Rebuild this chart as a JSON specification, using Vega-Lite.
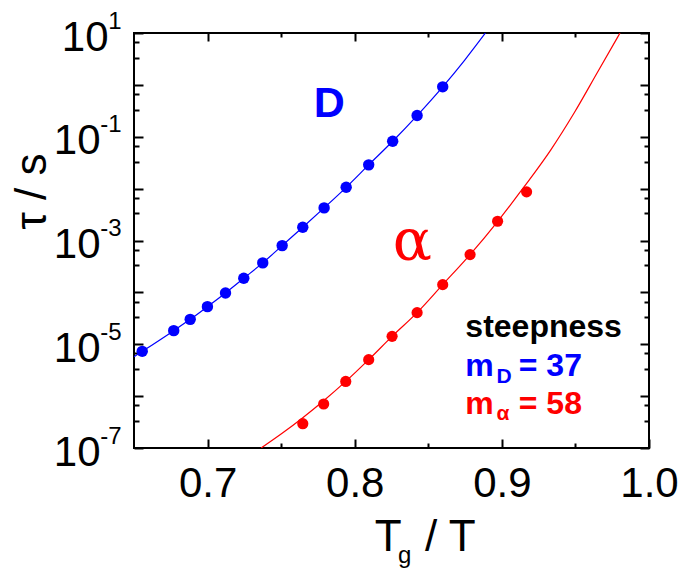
{
  "$schema": "https://vega.github.io/schema/vega-lite/v6.json",
  "width": 515,
  "height": 415,
  "autosize": {"type": "none"},
  "padding": {"left": 134, "top": 33, "right": 35, "bottom": 122},
  "background": "white",
  "config": {
    "view": {"stroke": "black", "strokeWidth": 2},
    "axis": {"zindex": 1, "domain": false, "grid": false, "tickColor": "black", "tickOpacity": 1, "tickWidth": 2, "labelFont": "Liberation Sans", "labelColor": "black", "labelFontSize": 42, "titleFont": "Liberation Sans", "titleColor": "black", "labelFlush": false, "labelOverlap": false}
  },
  "datasets": {
    "blueLine": [
      {"x": 0.65, "tau": 5.77e-6}, {"x": 0.6556, "tau": 7.3e-6}, {"x": 0.677, "tau": 1.83e-5}, {"x": 0.6882, "tau": 3.02e-5},
      {"x": 0.6999, "tau": 5.31e-5}, {"x": 0.7122, "tau": 9.75e-5}, {"x": 0.7246, "tau": 1.87e-4}, {"x": 0.7375, "tau": 3.7e-4},
      {"x": 0.7507, "tau": 7.97e-4}, {"x": 0.7647, "tau": 1.8e-3}, {"x": 0.7792, "tau": 4.25e-3}, {"x": 0.7942, "tau": 1.06e-2},
      {"x": 0.8095, "tau": 2.87e-2}, {"x": 0.8258, "tau": 8.18e-2}, {"x": 0.8424, "tau": 0.256}, {"x": 0.8598, "tau": 0.917},
      {"x": 0.8745, "tau": 2.95}, {"x": 0.8888, "tau": 10}
    ],
    "bluePts": [
      {"x": 0.6556, "tau": 7.3e-6}, {"x": 0.677, "tau": 1.83e-5}, {"x": 0.6882, "tau": 3.02e-5}, {"x": 0.6999, "tau": 5.31e-5},
      {"x": 0.7122, "tau": 9.75e-5}, {"x": 0.7246, "tau": 1.87e-4}, {"x": 0.7375, "tau": 3.7e-4}, {"x": 0.7507, "tau": 7.97e-4},
      {"x": 0.7647, "tau": 1.8e-3}, {"x": 0.7792, "tau": 4.25e-3}, {"x": 0.7942, "tau": 1.06e-2}, {"x": 0.8095, "tau": 2.87e-2},
      {"x": 0.8258, "tau": 8.18e-2}, {"x": 0.8424, "tau": 0.256}, {"x": 0.8598, "tau": 0.917}
    ],
    "redLine": [
      {"x": 0.7364, "tau": 1e-7}, {"x": 0.7509, "tau": 1.94e-7}, {"x": 0.7647, "tau": 3.84e-7}, {"x": 0.7789, "tau": 8.15e-7},
      {"x": 0.7939, "tau": 1.92e-6}, {"x": 0.8095, "tau": 5.05e-6}, {"x": 0.8254, "tau": 1.42e-5}, {"x": 0.8424, "tau": 4.07e-5},
      {"x": 0.8598, "tau": 1.41e-4}, {"x": 0.8784, "tau": 5.35e-4}, {"x": 0.8971, "tau": 2.32e-3}, {"x": 0.9153, "tau": 1.1e-2},
      {"x": 0.9334, "tau": 5.66e-2}, {"x": 0.9493, "tau": 0.293}, {"x": 0.9649, "tau": 1.73}, {"x": 0.9803, "tau": 10}
    ],
    "redPts": [
      {"x": 0.7647, "tau": 2.94e-7}, {"x": 0.7789, "tau": 7.06e-7}, {"x": 0.7939, "tau": 1.92e-6}, {"x": 0.8095, "tau": 5.05e-6},
      {"x": 0.8254, "tau": 1.42e-5}, {"x": 0.8424, "tau": 4.07e-5}, {"x": 0.8598, "tau": 1.41e-4}, {"x": 0.8784, "tau": 5.35e-4},
      {"x": 0.8971, "tau": 2.35e-3}, {"x": 0.9168, "tau": 8.66e-3}
    ],
    "notes": [
      {"t": "steepness", "x": 0.8752, "tau": 1.38e-5, "g": "k"},
      {"t": "m", "x": 0.8752, "tau": 2.4e-6, "g": "D"},
      {"t": "= 37", "x": 0.9115, "tau": 2.4e-6, "g": "D"},
      {"t": "m", "x": 0.8752, "tau": 4.59e-7, "g": "a"},
      {"t": "= 58", "x": 0.9115, "tau": 4.59e-7, "g": "a"}
    ],
    "subs": [
      {"t": "D", "x": 0.8963, "tau": 1.79e-6, "g": "D"},
      {"t": "α", "x": 0.8963, "tau": 3.52e-7, "g": "a"}
    ],
    "labelD": [{"t": "D", "x": 0.7828, "tau": 0.242}],
    "labelA": [{"t": "α", "x": 0.8392, "tau": 4.28e-4}],
    "xTitle": [
      {"t": "T", "x": 0.8137, "tau": 1.03e-9},
      {"t": "/ T", "x": 0.8478, "tau": 1.03e-9}
    ],
    "xSub": [{"t": "g", "x": 0.8295, "tau": 6.07e-10}]
  },
  "layer": [
    {
      "data": {"name": "blueLine"},
      "mark": {"type": "line", "color": "#0000FF", "strokeWidth": 1.2, "interpolate": "monotone", "clip": true},
      "encoding": {
        "x": {"field": "x", "type": "quantitative", "scale": {"domain": [0.65, 1.0], "nice": false, "zero": false},
          "axis": {"orient": "bottom", "offset": -9, "values": [0.7, 0.8, 0.9, 1.0], "format": ".1f", "tickSize": 9, "labelPadding": 15, "title": null}},
        "y": {"field": "tau", "type": "quantitative", "scale": {"type": "log", "domain": [1e-7, 10], "nice": false},
          "axis": {"orient": "left", "offset": -9, "values": [10, 1, 0.1, 0.01, 0.001, 0.0001, 0.00001, 0.000001, 0.0000001], "tickSize": 9, "labels": false,
            "title": "τ / s", "titleFontSize": 44, "titleFontWeight": "normal", "titleAngle": -90, "titleX": -98, "titleY": 196, "titleAlign": "left", "titleBaseline": "alphabetic"}}
      }
    },
    {
      "data": {"name": "redLine"},
      "mark": {"type": "line", "color": "#FF0000", "strokeWidth": 1.2, "interpolate": "monotone", "clip": true},
      "encoding": {
        "x": {"field": "x", "type": "quantitative", "scale": {"domain": [0.65, 1.0], "nice": false, "zero": false},
          "axis": {"orient": "bottom", "offset": -5, "values": [0.75, 0.85, 0.95], "tickSize": 5, "labels": false, "title": null}},
        "y": {"field": "tau", "type": "quantitative", "scale": {"type": "log", "domain": [1e-7, 10], "nice": false},
          "axis": {"orient": "left", "offset": -5, "values": [3.333e-7, 6.667e-7, 3.333e-6, 6.667e-6, 3.333e-5, 6.667e-5, 3.333e-4, 6.667e-4, 3.333e-3, 6.667e-3, 0.03333, 0.06667, 0.3333, 0.6667, 3.333, 6.667], "tickSize": 5, "labels": false, "title": null}}
      }
    },
    {
      "data": {"name": "bluePts"},
      "mark": {"type": "point", "filled": true, "opacity": 1, "color": "#0000FF", "size": 130, "shape": "circle"},
      "encoding": {
        "x": {"field": "x", "type": "quantitative", "scale": {"domain": [0.65, 1.0], "nice": false, "zero": false},
          "axis": {"orient": "top", "offset": -8, "values": [0.7, 0.8, 0.9], "tickSize": 8, "labels": false, "title": null}},
        "y": {"field": "tau", "type": "quantitative", "scale": {"type": "log", "domain": [1e-7, 10], "nice": false},
          "axis": {"orient": "right", "offset": -9, "values": [10, 1, 0.1, 0.01, 0.001, 0.0001, 0.00001, 0.000001, 0.0000001], "tickSize": 9, "labels": false, "title": null}}
      }
    },
    {
      "data": {"name": "redPts"},
      "mark": {"type": "point", "filled": true, "opacity": 1, "color": "#FF0000", "size": 125, "shape": "circle"},
      "encoding": {
        "x": {"field": "x", "type": "quantitative", "scale": {"domain": [0.65, 1.0], "nice": false, "zero": false},
          "axis": {"orient": "top", "offset": -4, "values": [0.75, 0.85, 0.95], "tickSize": 4, "labels": false, "title": null}},
        "y": {"field": "tau", "type": "quantitative", "scale": {"type": "log", "domain": [1e-7, 10], "nice": false},
          "axis": {"orient": "right", "offset": -5, "values": [3.333e-7, 6.667e-7, 3.333e-6, 6.667e-6, 3.333e-5, 6.667e-5, 3.333e-4, 6.667e-4, 3.333e-3, 6.667e-3, 0.03333, 0.06667, 0.3333, 0.6667, 3.333, 6.667], "tickSize": 5, "labels": false, "title": null}}
      }
    },
    {
      "data": {"name": "notes"},
      "mark": {"type": "text", "font": "Liberation Sans", "fontWeight": "bold", "fontSize": 32, "align": "left", "baseline": "alphabetic"},
      "encoding": {
        "x": {"field": "x", "type": "quantitative", "scale": {"domain": [0.65, 1.0], "nice": false, "zero": false}, "axis": null},
        "y": {"field": "tau", "type": "quantitative", "scale": {"type": "log", "domain": [1e-7, 10], "nice": false},
          "axis": {"orient": "left", "values": [10], "ticks": false, "tickSize": 0, "labelPadding": 26, "labelOffset": 4, "labelBaseline": "middle", "labelExpr": "'10'", "title": null}},
        "text": {"field": "t"},
        "color": {"field": "g", "type": "nominal", "scale": {"domain": ["D", "a", "k"], "range": ["#0000FF", "#FF0000", "#000000"]}, "legend": null}
      }
    },
    {
      "data": {"name": "subs"},
      "mark": {"type": "text", "font": "Liberation Sans", "fontWeight": "bold", "fontSize": 21, "align": "left", "baseline": "alphabetic"},
      "encoding": {
        "x": {"field": "x", "type": "quantitative", "scale": {"domain": [0.65, 1.0], "nice": false, "zero": false}, "axis": null},
        "y": {"field": "tau", "type": "quantitative", "scale": {"type": "log", "domain": [1e-7, 10], "nice": false},
          "axis": {"orient": "left", "values": [0.1, 0.001, 0.00001, 0.0000001], "ticks": false, "tickSize": 0, "labelPadding": 34, "labelOffset": 4, "labelBaseline": "middle", "labelExpr": "'10'", "title": null}},
        "text": {"field": "t"},
        "color": {"field": "g", "type": "nominal", "scale": {"domain": ["D", "a", "k"], "range": ["#0000FF", "#FF0000", "#000000"]}, "legend": null}
      }
    },
    {
      "data": {"name": "labelD"},
      "mark": {"type": "text", "font": "Liberation Sans", "fontWeight": "bold", "fontSize": 43, "align": "center", "baseline": "alphabetic", "color": "#0000FF"},
      "encoding": {
        "x": {"field": "x", "type": "quantitative", "scale": {"domain": [0.65, 1.0], "nice": false, "zero": false}, "axis": null},
        "y": {"field": "tau", "type": "quantitative", "scale": {"type": "log", "domain": [1e-7, 10], "nice": false},
          "axis": {"orient": "left", "values": [10, 0.1, 0.001, 0.00001, 0.0000001], "ticks": false, "tickSize": 0, "labelPadding": 13, "labelOffset": -12, "labelFontSize": 24, "labelBaseline": "middle", "labelAlign": "right", "labelExpr": "'' + round(log(datum.value)/LN10)", "title": null}},
        "text": {"field": "t"}
      }
    },
    {
      "data": {"name": "labelA"},
      "mark": {"type": "text", "font": "DejaVu Serif", "fontSize": 58, "align": "center", "baseline": "alphabetic", "color": "#FF0000"},
      "encoding": {
        "x": {"field": "x", "type": "quantitative", "scale": {"domain": [0.65, 1.0], "nice": false, "zero": false}, "axis": null},
        "y": {"field": "tau", "type": "quantitative", "scale": {"type": "log", "domain": [1e-7, 10], "nice": false}, "axis": null},
        "text": {"field": "t"}
      }
    },
    {
      "data": {"name": "xTitle"},
      "mark": {"type": "text", "font": "Liberation Sans", "fontSize": 44, "align": "left", "baseline": "alphabetic", "color": "black"},
      "encoding": {
        "x": {"field": "x", "type": "quantitative", "scale": {"domain": [0.65, 1.0], "nice": false, "zero": false}, "axis": null},
        "y": {"field": "tau", "type": "quantitative", "scale": {"type": "log", "domain": [1e-7, 10], "nice": false}, "axis": null},
        "text": {"field": "t"}
      }
    },
    {
      "data": {"name": "xSub"},
      "mark": {"type": "text", "font": "Liberation Sans", "fontSize": 24, "align": "left", "baseline": "alphabetic", "color": "black"},
      "encoding": {
        "x": {"field": "x", "type": "quantitative", "scale": {"domain": [0.65, 1.0], "nice": false, "zero": false}, "axis": null},
        "y": {"field": "tau", "type": "quantitative", "scale": {"type": "log", "domain": [1e-7, 10], "nice": false}, "axis": null},
        "text": {"field": "t"}
      }
    }
  ],
  "resolve": {"axis": {"x": "independent", "y": "independent"}}
}
